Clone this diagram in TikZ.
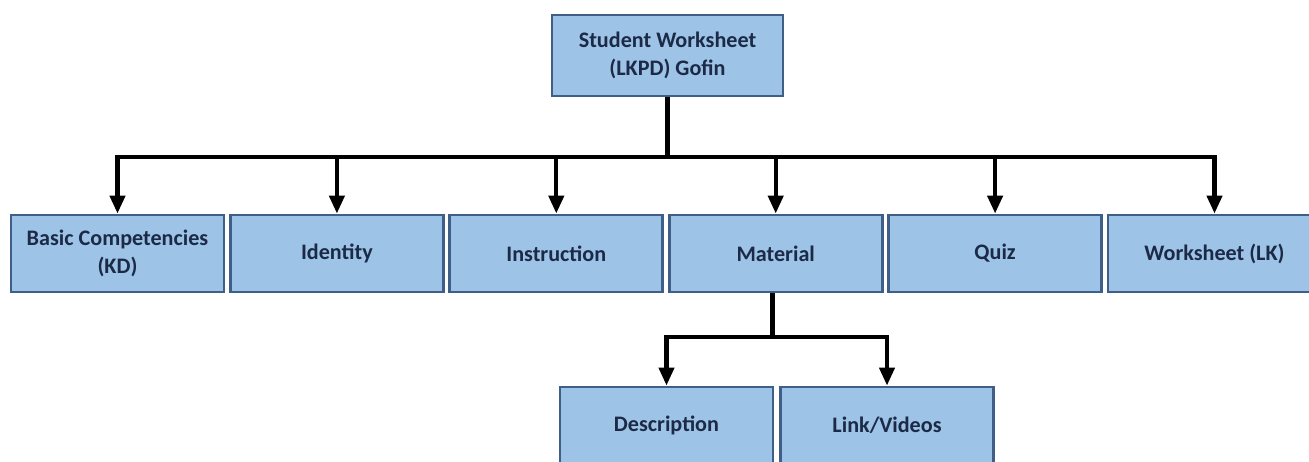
\documentclass[tikz,border=0pt]{standalone}
\usepackage{xcolor}
\usepackage{fontspec}
\setmainfont{Carlito}
\usepackage{tikz}
\usetikzlibrary{arrows.meta, positioning, calc}

\definecolor{boxfill}{HTML}{9DC3E6}
\definecolor{boxline}{HTML}{3F5F88}
\definecolor{boxtext}{HTML}{1C2A48}

\begin{document}
\begin{tikzpicture}[
    part/.style={rectangle, draw=boxline, line width=1.6pt, fill=boxfill, minimum width=4.26cm, minimum height=1.54cm, align=center, text=boxtext, font=\fontsize{12.6}{15.5}\selectfont\bfseries},
    root/.style={part, minimum width=4.62cm, minimum height=1.62cm},
    link/.style={line width=2.4pt},
    arrow/.style={link, -{Triangle[length=0.36cm, width=0.3cm]}}
]
\useasboundingbox (0,0) rectangle (26.18,9.24);
\clip (0,0) rectangle (26.18,9.24);

% Root
\node[root] (lkpd) at (13.35,8.13) {Student Worksheet\\(LKPD) Gofin};

% Components
\node[part] (kd) at (2.35,4.17) {Basic Competencies\\(KD)};
\node[part] (identity) at (6.738,4.17) {Identity};
\node[part] (instruction) at (11.126,4.17) {Instruction};
\node[part] (material) at (15.514,4.17) {Material};
\node[part] (quiz) at (19.902,4.17) {Quiz};
\node[part] (lk) at (24.29,4.17) {Worksheet (LK)};

% Material parts
\node[part] (desc) at (13.33,0.73) {Description};
\node[part] (videos) at (17.74,0.73) {Link/Videos};

% Connections
\coordinate (bus) at (13.35,6.1);
\coordinate (subbus) at (15.45,2.5);
\draw[link] (lkpd) -- (bus);
\draw[arrow] (bus) -| (kd);
\draw[arrow] (bus) -| (identity);
\draw[arrow] (bus) -| (instruction);
\draw[arrow] (bus) -| (material);
\draw[arrow] (bus) -| (quiz);
\draw[arrow] (bus) -| (lk);
\draw[link] (material.south -| subbus) -- (subbus);
\draw[arrow] (subbus) -| (desc);
\draw[arrow] (subbus) -| (videos);
\end{tikzpicture}
\end{document}
